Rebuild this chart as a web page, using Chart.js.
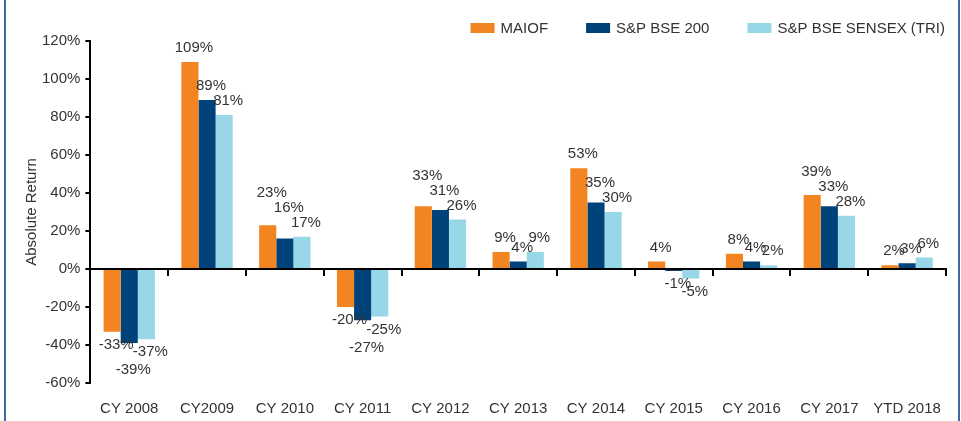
<!DOCTYPE html>
<html>
<head>
<meta charset="utf-8">
<script src="https://cdn.jsdelivr.net/npm/chart.js@4.4.0/dist/chart.umd.min.js"></script>
<style>
  html, body { margin: 0; padding: 0; background: #fff; }
  #wrap { width: 961px; height: 421px; position: relative; }
</style>
</head>
<body>
<div id="wrap"><canvas id="retChart" width="961" height="421"></canvas></div>
<script>
const categories = ["CY 2008", "CY2009", "CY 2010", "CY 2011", "CY 2012", "CY 2013",
  "CY 2014", "CY 2015", "CY 2016", "CY 2017", "YTD 2018"];
const maiof = [-33, 109, 23, -20, 33, 9, 53, 4, 8, 39, 2];
const bse200 = [-39, 89, 16, -27, 31, 4, 35, -1, 4, 33, 3];
const sensex = [-37, 81, 17, -25, 26, 9, 30, -5, 2, 28, 6];
const yTicks = [-60, -40, -20, 0, 20, 40, 60, 80, 100, 120];

const FONT = "'Liberation Sans', Arial, sans-serif";
const FS = 15;
const TEXT = "#333333";
const LH = 14; // label box height used for collision checks

function overlaps(a, b) {
  const dx = Math.min(a.x + a.w / 2, b.x + b.w / 2) - Math.max(a.x - a.w / 2, b.x - b.w / 2);
  const dy = Math.min(a.cy + LH / 2, b.cy + LH / 2) - Math.max(a.cy - LH / 2, b.cy - LH / 2);
  return dx > 6 && dy > 0;
}

// value labels above / below each bar, nudged so they don't sit on each other
const valueLabels = {
  id: "valueLabels",
  afterDatasetsDraw(chart) {
    const ctx = chart.ctx;
    ctx.save();
    ctx.font = FS + "px " + FONT;
    ctx.fillStyle = TEXT;
    ctx.textAlign = "center";
    ctx.textBaseline = "middle";
    const n = chart.data.labels.length;
    for (let i = 0; i < n; i++) {
      const group = chart.data.datasets.map((ds, di) => {
        const bar = chart.getDatasetMeta(di).data[i];
        const v = ds.data[i];
        const txt = v + "%";
        return {
          v, txt,
          x: bar.x + 4,
          w: ctx.measureText(txt).width,
          cy: v >= 0 ? bar.y - 14 : bar.y + 13
        };
      });
      // positives: right to left, push up when clashing
      for (let k = group.length - 2; k >= 0; k--) {
        const a = group[k], b = group[k + 1];
        if (a.v >= 0 && b.v >= 0 && overlaps(a, b)) a.cy = Math.min(a.cy, b.cy - LH - 1);
      }
      // negatives: drop the middle one below its neighbours
      if (group.every(g => g.v < 0)) {
        const m = group[1];
        if (overlaps(m, group[0]) || overlaps(m, group[2])) {
          m.cy = Math.max(group[0].cy, group[2].cy) + LH + 4;
        }
      }
      group.forEach(g => ctx.fillText(g.txt, g.x, g.cy));
    }
    ctx.restore();
  }
};

// thin blue frame on the left and right
const frame = {
  id: "frame",
  beforeDraw(chart) {
    const ctx = chart.ctx;
    ctx.save();
    ctx.fillStyle = "#fff";
    ctx.fillRect(0, 0, chart.width, chart.height);
    ctx.strokeStyle = "#3d6aa2";
    ctx.lineWidth = 2;
    ctx.beginPath();
    ctx.moveTo(5, 0); ctx.lineTo(5, chart.height);
    ctx.moveTo(959, 0); ctx.lineTo(959, chart.height);
    ctx.stroke();
    ctx.restore();
  }
};

// legend row, right aligned at the top
const topLegend = {
  id: "topLegend",
  afterDraw(chart) {
    const ctx = chart.ctx;
    ctx.save();
    ctx.font = FS + "px " + FONT;
    ctx.textBaseline = "middle";
    ctx.textAlign = "left";
    const items = chart.data.datasets.map(ds => ({
      text: ds.label, color: ds.backgroundColor, w: 24 + 6 + ctx.measureText(ds.label).width
    }));
    const gap = 38;
    const total = items.reduce((s, it) => s + it.w, 0) + gap * (items.length - 1);
    let x = chart.chartArea.right - 1 - total;
    const y = 28;
    items.forEach(it => {
      ctx.fillStyle = it.color;
      ctx.fillRect(x, y - 5, 24, 10);
      ctx.fillStyle = TEXT;
      ctx.fillText(it.text, x + 30, y + 1);
      x += it.w + gap;
    });
    ctx.restore();
  }
};

new Chart(document.getElementById("retChart"), {
  type: "bar",
  data: {
    labels: categories,
    datasets: [
      { label: "MAIOF", data: maiof, backgroundColor: "#f28522" },
      { label: "S&P BSE 200", data: bse200, backgroundColor: "#00427a" },
      { label: "S&P BSE SENSEX (TRI)", data: sensex, backgroundColor: "#97d7e8" }
    ]
  },
  options: {
    responsive: false,
    animation: false,
    datasets: { bar: { categoryPercentage: 0.66, barPercentage: 1.0 } },
    layout: { padding: { left: 3, right: 15, top: 41, bottom: 4 } },
    plugins: {
      tooltip: { enabled: false },
      legend: { display: false }
    },
    scales: {
      x: {
        position: "bottom",
        grid: { display: false, drawTicks: false },
        border: { display: false },
        ticks: { color: TEXT, font: { family: FONT, size: FS }, padding: 17, maxRotation: 0, autoSkip: false },
        afterFit(scale) { scale.height = 34; }
      },
      xZero: {
        axis: "x",
        type: "category",
        labels: categories,
        position: { y: 0 },
        offset: true,
        grid: { drawOnChartArea: false, offset: true, tickLength: 6, color: "#000", lineWidth: 2 },
        border: { display: true, color: "#000", width: 2 },
        ticks: { display: false },
        afterFit(scale) { scale.height = 0; }
      },
      y: {
        min: -60,
        max: 120,
        afterBuildTicks(scale) { scale.ticks = yTicks.map(v => ({ value: v })); },
        grid: { drawOnChartArea: false, tickLength: 5, color: "#000", lineWidth: 2 },
        border: { color: "#000", width: 2 },
        ticks: {
          color: TEXT,
          padding: 5,
          font: { family: FONT, size: FS },
          callback: v => v + "%"
        },
        title: {
          display: true,
          text: "Absolute Return",
          color: TEXT,
          font: { family: FONT, size: 15 },
          padding: { top: 20, bottom: -4 }
        }
      }
    }
  },
  plugins: [frame, valueLabels, topLegend]
});
</script>
</body>
</html>
